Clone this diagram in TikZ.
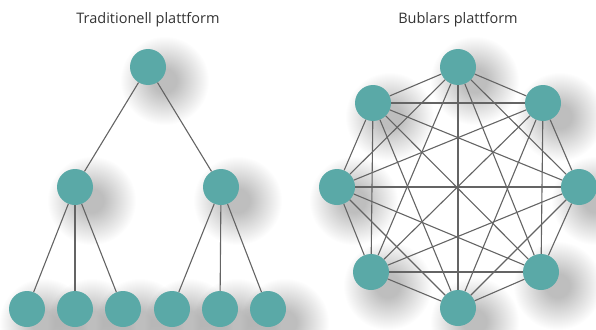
\documentclass[tikz,border=0pt]{standalone}
\usepackage{fontspec}
\setmainfont{Open Sans}
\usetikzlibrary{backgrounds}
\definecolor{peerteal}{HTML}{5AA9A7}
\definecolor{linkgray}{HTML}{646464}
\tikzset{
  peer/.style={circle,fill=peerteal,minimum size=36pt,inner sep=0pt},
  link/.style={draw=linkgray,line width=1.1pt},
  caption/.style={text=black!80,font=\fontsize{14.5}{16}\selectfont},
  blob/.style={fill=black,opacity=.009},
}

\begin{document}
\begin{tikzpicture}[x=1pt,y=-1pt]
  \useasboundingbox (0,0) rectangle (596,329);

  % titles
  \node[caption] (t1) at (148,20) {Traditionell plattform};
  \node[caption] (t2) at (458,20) {Bublars plattform};

  % tree
  \node[peer] (r) at (148,67) {};
  \node[peer] (a) at (75,187) {};
  \node[peer] (b) at (221,187) {};
  \foreach \x [count=\i] in {27,75,123} \node[peer] (a\i) at (\x,309) {};
  \foreach \x [count=\i] in {172,220,268} \node[peer] (b\i) at (\x,309) {};

  \draw[link] (r) -- (a);
  \draw[link] (r) -- (b);
  \foreach \i in {1,2,3} {
    \draw[link] (a) -- (a\i);
    \draw[link] (b) -- (b\i);
  }

  % full mesh
  \node[peer] (k1) at (458,67) {};
  \node[peer] (k2) at (543,103) {};
  \node[peer] (k3) at (579,187) {};
  \node[peer] (k4) at (541,272) {};
  \node[peer] (k5) at (458,308) {};
  \node[peer] (k6) at (371,272) {};
  \node[peer] (k7) at (337,187) {};
  \node[peer] (k8) at (373,103) {};

  \foreach \i [evaluate=\i as \n using int(\i+1)] in {1,...,7}
    \foreach \j in {\n,...,8}
      \draw[link] (k\i) -- (k\j);

  % soft shadows, stacked rings
  \begin{scope}[on background layer]
    \foreach \p in {r,a,b,a1,a2,a3,b1,b2,b3,k1,k2,k3,k4,k5,k6,k7,k8}
      \foreach \rr in {12,...,44}
        \fill[blob] ([shift={(17,14)}]\p.center) circle (\rr);
  \end{scope}

\end{tikzpicture}
\end{document}
